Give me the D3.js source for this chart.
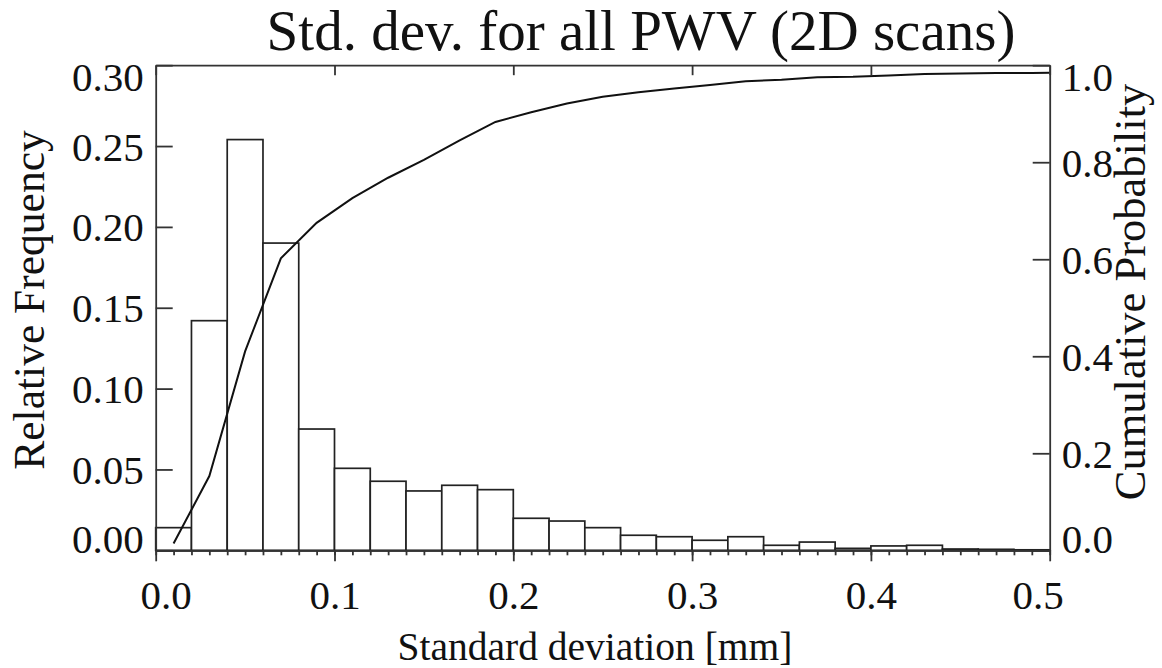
<!DOCTYPE html>
<html><head><meta charset="utf-8">
<script src="https://cdn.jsdelivr.net/npm/d3@7/dist/d3.min.js"></script>
<style>
body{margin:0;background:#fff}
svg{display:block}
text{font-family:"Liberation Serif","Times New Roman",Times,serif;fill:#111}
</style>
</head><body>
<svg id="c" width="1162" height="668"></svg>
<script>
// ---- data ----
const binLeft  = [0.00,0.02,0.04,0.06,0.08,0.10,0.12,0.14,0.16,0.18,0.20,0.22,0.24,0.26,0.28,0.30,0.32,0.34,0.36,0.38,0.40,0.42,0.44,0.46,0.48];
const relFreq  = [0.014,0.142,0.254,0.190,0.075,0.0507,0.0427,0.0367,0.0402,0.0375,0.0198,0.0181,0.0140,0.0093,0.0084,0.0062,0.0084,0.0031,0.0051,0.0012,0.0027,0.0031,0.0008,0.0006,0.0003];
const binWidth = 0.02;
const cumX     = [0.01,0.03,0.05,0.07,0.09,0.11,0.13,0.15,0.17,0.19,0.21,0.23,0.25,0.27,0.29,0.31,0.33,0.35,0.37,0.39,0.41,0.43,0.45,0.47,0.49,0.51];
const cumProb  = [0.014,0.153,0.410,0.602,0.675,0.726,0.768,0.805,0.845,0.883,0.903,0.921,0.935,0.944,0.952,0.959,0.967,0.970,0.975,0.976,0.979,0.982,0.983,0.984,0.984,0.985];
const xTicks   = [0.0,0.1,0.2,0.3,0.4,0.5];
const xTickLabels = ["0.0","0.1","0.2","0.3","0.4","0.5"];
const xMinor   = d3.range(0,51).map(i=>i/100);
const yTicks   = [0.00,0.05,0.10,0.15,0.20,0.25,0.30];
const yTickLabels = ["0.00","0.05","0.10","0.15","0.20","0.25","0.30"];
const y2Ticks  = [0.0,0.2,0.4,0.6,0.8,1.0];
const y2TickLabels = ["0.0","0.2","0.4","0.6","0.8","1.0"];
const title = "Std. dev. for all PWV (2D scans)";
const xTitle = "Standard deviation [mm]";
const yTitle = "Relative Frequency";
const y2Title = "Cumulative Probability";

// ---- layout ----
const L=155.7, R=1049.7, T=65.2, B=550.3;
const svg = d3.select("#c");
const x  = d3.scaleLinear().domain([0,0.5]).range([L,R]);
const y  = d3.scaleLinear().domain([0,0.30]).range([B,T]);
const y2 = d3.scaleLinear().domain([0,1]).range([B,T]);
const axisColor="#333", axisW=1.8, FS=41;
const FF='"Liberation Serif","Times New Roman",Times,serif';

svg.append("defs").append("clipPath").attr("id","clip")
  .append("rect").attr("x",L).attr("y",T).attr("width",R-L).attr("height",B-T);

// bars
svg.append("g").selectAll("rect").data(binLeft).join("rect")
  .attr("x",(d)=>x(d))
  .attr("width",(d)=>x(d+binWidth)-x(d))
  .attr("y",(d,i)=>y(relFreq[i]))
  .attr("height",(d,i)=>y(0)-y(relFreq[i]))
  .attr("fill","#fff").attr("stroke","#222").attr("stroke-width",1.7);

// cumulative line
svg.append("path").datum(cumX.map((d,i)=>[d,cumProb[i]]))
  .attr("clip-path","url(#clip)")
  .attr("d", d3.line().x(d=>x(d[0])).y(d=>y2(d[1])))
  .attr("fill","none").attr("stroke","#111").attr("stroke-width",2);

function styleAxis(g){
  g.selectAll(".domain").attr("stroke",axisColor).attr("stroke-width",axisW);
  g.selectAll(".tick line").attr("stroke",axisColor).attr("stroke-width",axisW);
  g.selectAll("text").attr("font-size",FS).attr("fill","#111").attr("font-family",FF);
}

// bottom minor ticks
svg.append("g").attr("transform",`translate(0,${B})`)
  .call(d3.axisBottom(x).tickValues(xMinor).tickSize(5).tickSizeOuter(0).tickFormat(""))
  .call(styleAxis);
// bottom major
const gb = svg.append("g").attr("transform",`translate(0,${B})`)
  .call(d3.axisBottom(x).tickValues(xTicks).tickSize(11).tickSizeOuter(0).tickPadding(19)
    .tickFormat((d,i)=>xTickLabels[i]))
  .call(styleAxis);
gb.selectAll(".tick text").attr("dx",(d,i)=> i===0?10:(i===xTicks.length-1?-12:0));

// top
svg.append("g").attr("transform",`translate(0,${T})`)
  .call(d3.axisTop(x).tickValues(xTicks).tickSize(-10).tickSizeOuter(0).tickFormat(""))
  .call(styleAxis);

const endShift = (n)=>(d,i)=> i===0?"translate(0,-12)":(i===n-1?"translate(0,11)":"");

// left
const gl = svg.append("g").attr("transform",`translate(${L},0)`)
  .call(d3.axisLeft(y).tickValues(yTicks).tickSize(-17).tickSizeOuter(0).tickPadding(12)
    .tickFormat((d,i)=>yTickLabels[i]))
  .call(styleAxis);
gl.selectAll(".tick text").attr("dy","0.34em").attr("transform",endShift(yTicks.length));

// right
const gr = svg.append("g").attr("transform",`translate(${R},0)`)
  .call(d3.axisRight(y2).tickValues(y2Ticks).tickSize(-17).tickSizeOuter(0).tickPadding(12)
    .tickFormat((d,i)=>y2TickLabels[i]))
  .call(styleAxis);
gr.selectAll(".tick text").attr("dy","0.34em").attr("transform",endShift(y2Ticks.length));

// titles
svg.append("text").attr("x",641).attr("y",50).attr("text-anchor","middle")
  .attr("font-size",57).text(title);
svg.append("text").attr("x",595).attr("y",660).attr("text-anchor","middle")
  .attr("font-size",39.5).text(xTitle);
svg.append("text").attr("transform",`translate(44,300) rotate(-90)`)
  .attr("text-anchor","middle").attr("font-size",43.5).text(yTitle);
svg.append("text").attr("transform",`translate(1145,292) rotate(-90)`)
  .attr("text-anchor","middle").attr("font-size",44.5).text(y2Title);
</script>
</body></html>
